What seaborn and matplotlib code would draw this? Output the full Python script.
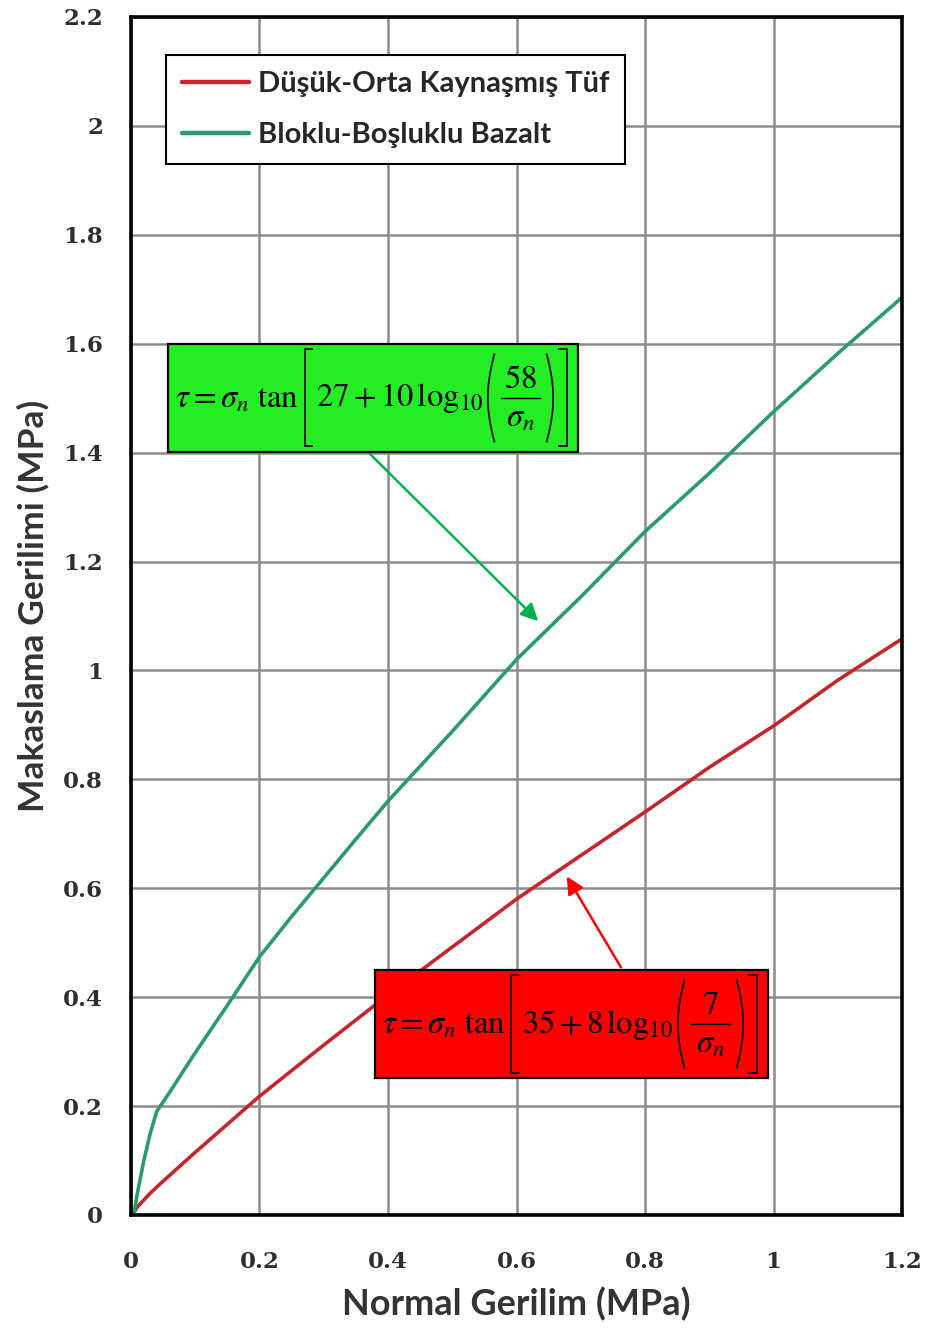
import matplotlib
matplotlib.use("Agg")
import matplotlib.pyplot as plt
from matplotlib.patches import Rectangle
from matplotlib.lines import Line2D
from matplotlib.offsetbox import TextArea, HPacker, VPacker, DrawingArea, AnnotationBbox
import numpy as np
import pandas as pd
import seaborn as sns

# Shear strength envelopes (normal stress vs. shear stress, MPa)
series_names = ["Düşük-Orta Kaynaşmış Tüf", "Bloklu-Boşluklu Bazalt"]

normal_tuf = [0.005, 0.01, 0.03, 0.05, 0.1, 0.2, 0.3, 0.4, 0.5, 0.6, 0.7, 0.8, 0.9, 1.0, 1.1, 1.2]
shear_tuf = [0.005, 0.015, 0.04, 0.062, 0.115, 0.218, 0.312, 0.404, 0.492, 0.58, 0.66, 0.74, 0.822, 0.898, 0.982, 1.058]

normal_bazalt = [0.005, 0.01, 0.02, 0.03, 0.04, 0.06, 0.1, 0.15, 0.2, 0.25, 0.3, 0.35, 0.4,
                 0.5, 0.6, 0.7, 0.8, 0.9, 1.0, 1.1, 1.2]
shear_bazalt = [0.005, 0.04, 0.1, 0.15, 0.19, 0.225, 0.298, 0.385, 0.474, 0.548, 0.619, 0.69, 0.76,
                0.888, 1.02, 1.135, 1.255, 1.362, 1.475, 1.582, 1.685]

x_ticks = [0, 0.2, 0.4, 0.6, 0.8, 1.0, 1.2]
x_tick_labels = ["0", "0.2", "0.4", "0.6", "0.8", "1", "1.2"]
y_ticks = [0, 0.2, 0.4, 0.6, 0.8, 1.0, 1.2, 1.4, 1.6, 1.8, 2.0, 2.2]
y_tick_labels = ["0", "0.2", "0.4", "0.6", "0.8", "1", "1.2", "1.4", "1.6", "1.8", "2", "2.2"]

# Barton–Bandis expressions shown in the boxes: (prefix, inner term, numerator)
eq_bazalt = (r"$\tau = \sigma_n\ \tan$", r"$27+10\,\log_{10}$", r"$58$")
eq_tuf = (r"$\tau = \sigma_n\ \tan$", r"$35+8\,\log_{10}$", r"$7$")

line_colors = {series_names[0]: "#C3262C", series_names[1]: "#2B9A6C"}

df = pd.concat([
    pd.DataFrame({"normal": normal_tuf, "shear": shear_tuf, "seri": series_names[0]}),
    pd.DataFrame({"normal": normal_bazalt, "shear": shear_bazalt, "seri": series_names[1]}),
], ignore_index=True)

sns.set_theme(style="whitegrid")
plt.rcParams["mathtext.fontset"] = "stix"

fig = plt.figure(figsize=(9.33, 13.37), dpi=100)
ax = fig.add_axes([0.1404, 0.0913, 0.8264, 0.896])

sns.lineplot(data=df, x="normal", y="shear", hue="seri", hue_order=series_names,
             palette=line_colors, estimator=None, sort=False, linewidth=2.6, ax=ax)

ax.set_xlim(0, 1.2)
ax.set_ylim(0, 2.2)
ax.set_xticks(x_ticks)
ax.set_xticklabels(x_tick_labels)
ax.set_yticks(y_ticks)
ax.set_yticklabels(y_tick_labels)

ax.set_facecolor("white")
ax.grid(True, color="#8C8C8C", linewidth=1.8)
for side in ["left", "right", "top", "bottom"]:
    ax.spines[side].set_visible(True)
    ax.spines[side].set_color("black")
    ax.spines[side].set_linewidth(2.6)

ax.tick_params(axis="both", which="major", direction="out", length=10, width=1.4,
               color="#8C8C8C", labelsize=16.5, labelcolor="#2E2E2E")
ax.tick_params(axis="x", pad=16)
ax.tick_params(axis="y", pad=10)
for lab in ax.get_xticklabels() + ax.get_yticklabels():
    lab.set_family("DejaVu Serif")
    lab.set_fontweight("bold")

ax.set_xlabel("Normal Gerilim (MPa)", family="Lato", fontweight="bold", fontsize=26,
              color="#333333", labelpad=10)
ax.set_ylabel("Makaslama Gerilimi (MPa)", family="Lato", fontweight="bold", fontsize=25.5,
              color="#333333")
ax.yaxis.set_label_coords(-0.106, 0.508)

leg = ax.legend(loc="upper left", bbox_to_anchor=(0.0454, 0.968), borderaxespad=0,
                frameon=True, fancybox=False, edgecolor="black", framealpha=1,
                borderpad=0.55, handlelength=2.3, handletextpad=0.3, labelspacing=0.85,
                prop={"family": "Lato", "weight": "bold", "size": 21})
leg.get_frame().set_linewidth(1.5)
for h in leg.get_lines():
    h.set_linewidth(3.2)


def delimiter(kind, w, h, lw=1.2):
    """Tall thin bracket or parenthesis drawn in a DrawingArea (points)."""
    da = DrawingArea(w, h, 0, 0)
    if kind in "[]":
        xs = np.array([w, 0.3 * w, 0.3 * w, w])
        ys = np.array([0, 0, h, h])
    else:
        a = np.linspace(-1, 1, 60)
        xs = w * (0.95 - 0.75 * np.cos(a * 1.2))
        ys = h / 2 + a * h / 2
    if kind in "])":
        xs = w - xs
    da.add_artist(Line2D(xs, ys, color="black", lw=lw, solid_capstyle="butt"))
    return da


def equation(parts, fs=23.5, bar_w=28):
    prefix, inner, num = parts
    tp = dict(fontsize=fs, color="black")
    bar = DrawingArea(bar_w, 2, 0, 0)
    bar.add_artist(Line2D([0, bar_w], [1, 1], color="black", lw=1.0))
    frac = VPacker(children=[TextArea(num, textprops=tp), bar,
                             TextArea(r"$\sigma_n$", textprops=tp)],
                   align="center", pad=0, sep=1)
    return HPacker(children=[TextArea(prefix, textprops=tp), delimiter("[", 9, 70),
                             TextArea(inner, textprops=tp), delimiter("(", 10, 64),
                             frac, delimiter(")", 10, 64), delimiter("]", 9, 70)],
                   align="center", pad=0, sep=1.5)


# Equation boxes with pointer arrows
boxes = [
    (eq_bazalt, (0.058, 1.401), 0.637, 0.199, "#22EE22"),
    (eq_tuf, (0.379, 0.251), 0.612, 0.199, "#FF0000"),
]
for parts, (bx, by), bw, bh, fc in boxes:
    ax.add_patch(Rectangle((bx, by), bw, bh, facecolor=fc, edgecolor="black",
                           linewidth=1.6, zorder=6))
    ab = AnnotationBbox(equation(parts), (bx + bw / 2, by + bh / 2), xycoords="data",
                        frameon=False, box_alignment=(0.5, 0.5), pad=0)
    ab.set_zorder(7)
    ax.add_artist(ab)

ax.annotate("", xy=(0.637, 1.087), xytext=(0.369, 1.401),
            arrowprops=dict(arrowstyle="-|>", color="#00B050", lw=1.8, mutation_scale=26),
            zorder=5)
ax.annotate("", xy=(0.676, 0.626), xytext=(0.765, 0.450),
            arrowprops=dict(arrowstyle="-|>", color="#FF0000", lw=1.8, mutation_scale=26),
            zorder=5)

fig.savefig("out.png", dpi=100, facecolor="white")
